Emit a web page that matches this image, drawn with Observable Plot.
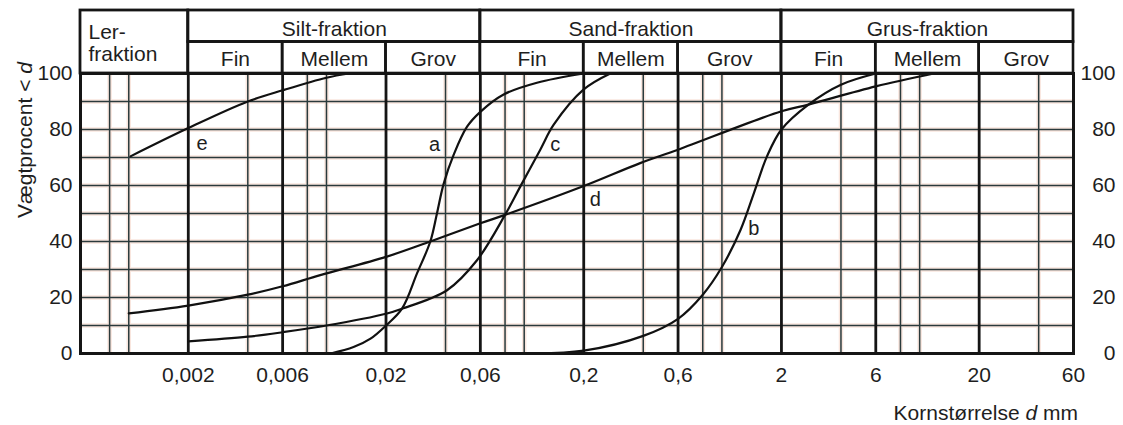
<!DOCTYPE html>
<html>
<head>
<meta charset="utf-8">
<script src="https://cdn.jsdelivr.net/npm/d3@7"></script>
<script src="https://cdn.jsdelivr.net/npm/@observablehq/plot@0.6"></script>
<style>
  html, body { margin: 0; padding: 0; background: #fff; }
  #chart { width: 1123px; height: 425px; }
</style>
</head>
<body>
<div id="chart"></div>
<script>
// Grain size axis (mm), logarithmic
const dMin = 0.00057;
const majorSizes = [0.002, 0.006, 0.02, 0.06, 0.2, 0.6, 2, 6, 20, 60];
const minorSizes = [0.0008, 0.001, 0.004, 0.008, 0.01, 0.04, 0.08, 0.1, 0.4, 0.8, 1, 4, 8, 10, 40];

// Weight percent axis
const percentLines = [10, 20, 30, 40, 50, 60, 70, 80, 90];
const percentTicks = [0, 20, 40, 60, 80, 100];

// Fraction header
const fractionNames = ["Ler-\nfraktion", "Silt-fraktion", "Sand-fraktion", "Grus-fraktion"];
const fractionBounds = [dMin, 0.002, 0.06, 2, 60];
const subNames = ["Fin", "Mellem", "Grov"];

// Cumulative grading curves: [grain size d (mm), weight % finer than d]
const curveA = [[0.0105, 0], [0.0137, 2.3], [0.0167, 5.3], [0.02, 10], [0.0241, 16], [0.0287, 28.6],
  [0.0335, 40], [0.0362, 50], [0.0391, 60.5], [0.044, 71], [0.0514, 81], [0.06, 86.3],
  [0.0787, 92.5], [0.116, 96.7], [0.2, 100]];
const curveB = [[0.116, 0], [0.2, 1], [0.4, 6.3], [0.6, 12.4], [0.8, 21], [1.0, 30.9], [1.24, 44],
  [1.45, 57.2], [1.69, 70.4], [2, 80], [2.74, 88.9], [4, 96], [6, 100]];
const curveC = [[0.002, 4.3], [0.004, 6], [0.006, 7.6], [0.01, 10], [0.02, 14.2], [0.0241, 16],
  [0.0407, 22.6], [0.0577, 33.3], [0.08, 49.5], [0.0955, 59.6], [0.1206, 72.8], [0.141, 81.7],
  [0.2, 94.3], [0.2726, 100]];
const curveD = [[0.001, 14.3], [0.002, 17.1], [0.004, 21], [0.006, 24], [0.0093, 28], [0.02, 34.5],
  [0.0335, 40], [0.06, 46.5], [0.08, 49.5], [0.2, 59.8], [0.386, 68], [0.6, 72.8], [2, 86.5],
  [2.74, 88.9], [6, 95.4], [11.8, 100]];
const curveE = [[0.00102, 70.4], [0.002, 80.5], [0.004, 90], [0.006, 94], [0.01, 98.5], [0.013, 100]];

const curveNames = ["a", "b", "c", "d", "e"];
const curveLabelSizes = [0.0352, 1.45, 0.1437, 0.229, 0.00235];
const curveLabelPercents = [74.6, 44.6, 74.6, 54.8, 75];

// ---- derived tables ----
const curves = [curveA, curveB, curveC, curveD, curveE];
const curveRows = curves.flatMap((c, i) => c.map(([d, p]) => ({name: curveNames[i], d, p})));
const labelRows = curveNames.map((name, i) => ({name, d: curveLabelSizes[i], p: curveLabelPercents[i]}));

// header rows live above 100 % on the same y scale
const pxPerUnit = 2.8, yTopPx = 73;
const yAt = px => 100 + (yTopPx - px) / pxPerUnit;
const headerMid = yAt(41.5), headerTop = yAt(10);

const groupCells = fractionNames.map((name, i) => ({
  name, x1: fractionBounds[i], x2: fractionBounds[i + 1],
  y1: i === 0 ? 100 : headerMid, y2: headerTop
}));
const subCells = majorSizes.slice(0, -1).map((x1, i) => ({
  name: subNames[i % 3], x1, x2: majorSizes[i + 1], y1: 100, y2: headerMid
}));

const ink = "#151515";
const gridInk = "#2a3a3c";
const halo = "#f9e6de";
const textInk = "#1e1e1e";
const font = "'Liberation Sans', Arial, sans-serif";
const commaFormat = d => String(d).replace(".", ",");

const plot = Plot.plot({
  width: 1123,
  height: 425,
  marginLeft: 80,
  marginRight: 50,
  marginTop: 73,
  marginBottom: 72,
  style: {fontFamily: font, fontSize: "21px", color: textInk, background: "#fff", overflow: "visible"},
  x: {type: "log", domain: [dMin, 60], axis: null},
  y: {domain: [0, 100], axis: null},
  marks: [
    // faint print halo behind the grid
    Plot.ruleY(percentLines, {stroke: halo, strokeWidth: 4.5}),
    Plot.ruleX(minorSizes, {y1: 0, y2: 100, stroke: halo, strokeWidth: 4.5}),
    // grid
    Plot.ruleY(percentLines, {stroke: gridInk, strokeWidth: 1.6}),
    Plot.ruleX(minorSizes, {y1: 0, y2: 100, stroke: gridInk, strokeWidth: 1.5}),
    Plot.ruleX(majorSizes, {y1: 0, y2: 100, stroke: ink, strokeWidth: 2.8}),
    // grading curves
    Plot.line(curveRows, {x: "d", y: "p", z: "name", curve: "catmull-rom", stroke: "#111", strokeWidth: 2.2}),
    // header cells
    Plot.rect(subCells, {x1: "x1", x2: "x2", y1: "y1", y2: "y2", fill: null, stroke: ink, strokeWidth: 2.6}),
    Plot.rect(groupCells, {x1: "x1", x2: "x2", y1: "y1", y2: "y2", fill: null, stroke: ink, strokeWidth: 2.8}),
    Plot.frame({stroke: ink, strokeWidth: 3}),
    // header text
    Plot.text(groupCells.slice(1), {
      x: d => Math.sqrt(d.x1 * d.x2), y: yAt(28.3), text: "name", fill: textInk
    }),
    Plot.text(groupCells.slice(0, 1), {
      x: "x1", y: yAt(23.1), text: "name", textAnchor: "start", lineAnchor: "top",
      lineHeight: 1.05, dx: 8, fill: textInk
    }),
    Plot.text(subCells, {
      x: d => Math.sqrt(d.x1 * d.x2), y: yAt(58.3), text: "name", fill: textInk
    }),
    // curve letters
    Plot.text(labelRows, {x: "d", y: "p", text: "name", fill: textInk, fontSize: 20}),
    // axis tick labels
    Plot.text(majorSizes, {x: d => d, y: 0, dy: 22, text: commaFormat, fill: textInk}),
    Plot.text(percentTicks, {x: dMin, y: d => d, text: d => String(d), textAnchor: "end", dx: -8, fill: textInk}),
    Plot.text(percentTicks, {x: 60, y: d => d, text: d => String(d), textAnchor: "end", dx: 42, fill: textInk})
  ]
});

// axis titles with the italic symbol d
const svg = d3.select(plot);
const yTitle = svg.append("text")
  .attr("transform", "translate(32,140) rotate(-90)")
  .attr("text-anchor", "middle")
  .attr("fill", textInk)
  .style("font-size", "21px");
yTitle.append("tspan").text("Vægtprocent < ");
yTitle.append("tspan").attr("font-style", "italic").text("d");

const xTitle = svg.append("text")
  .attr("x", 1078).attr("y", 420)
  .attr("text-anchor", "end")
  .attr("fill", textInk)
  .style("font-size", "21px");
xTitle.append("tspan").text("Kornstørrelse ");
xTitle.append("tspan").attr("font-style", "italic").text("d");
xTitle.append("tspan").text(" mm");

document.getElementById("chart").append(plot);
</script>
</body>
</html>
